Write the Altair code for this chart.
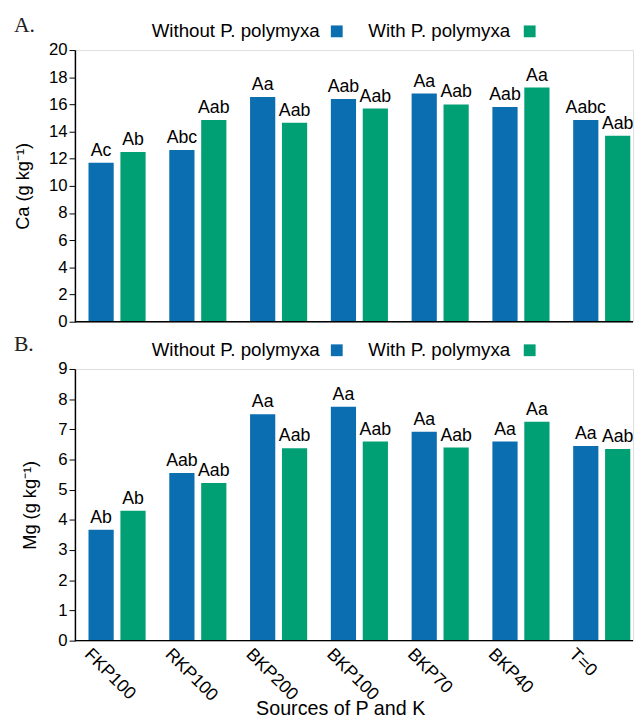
import altair as alt
import pandas as pd

sources = ["FKP100", "RKP100", "BKP200", "BKP100", "BKP70", "BKP40", "T=0"]
series = ["Without P. polymyxa", "With P. polymyxa"]
colors = ["#0a6eb0", "#00a074"]

ca_without = [11.7, 12.65, 16.55, 16.4, 16.8, 15.8, 14.85]
ca_with = [12.5, 14.85, 14.65, 15.7, 16.0, 17.25, 13.7]
ca_without_lbl = ["Ac", "Abc", "Aa", "Aab", "Aa", "Aab", "Aabc"]
ca_with_lbl = ["Ab", "Aab", "Aab", "Aab", "Aab", "Aa", "Aab"]

mg_without = [3.67, 5.55, 7.5, 7.75, 6.92, 6.6, 6.45]
mg_with = [4.3, 5.22, 6.37, 6.6, 6.4, 7.25, 6.35]
mg_without_lbl = ["Ab", "Aab", "Aa", "Aa", "Aa", "Aa", "Aa"]
mg_with_lbl = ["Ab", "Aab", "Aab", "Aab", "Aab", "Aa", "Aab"]

x_title = "Sources of P and K"

FONT = "Liberation Sans"
W, H = 567, 276
XRANGE = 578


def panel(v_wo, v_w, l_wo, l_w, ymax, step, ytitle, letter, show_x, title_x):
    df = pd.DataFrame({
        "source": sources * 2,
        "series": [series[0]] * len(sources) + [series[1]] * len(sources),
        "value": v_wo + v_w,
        "label": l_wo + l_w,
    })
    xscale = alt.Scale(domain=sources, range=[0, XRANGE], paddingInner=0.293, paddingOuter=0.168)
    x = alt.X("source:N", sort=sources, axis=None, scale=xscale)
    xo = alt.XOffset("series:N", sort=series,
                     scale=alt.Scale(domain=series, paddingInner=0.21, paddingOuter=0))
    yaxis = alt.Axis(title=ytitle, grid=False, format="d",
                     values=list(range(0, ymax + 1, step)), tickCount=30, labelOverlap=False,
                     labelFontSize=17, titleFontSize=18.5, titleFontWeight="normal",
                     tickSize=6, tickColor="black", domainColor="black", domainWidth=1.5,
                     labelColor="black", titleColor="black", labelFont=FONT, titleFont=FONT,
                     titleX=title_x, titleY=H / 2, titleAlign="center", titleBaseline="middle")
    y = alt.Y("value:Q", scale=alt.Scale(domain=[0, ymax], nice=False), axis=yaxis)
    base = alt.Chart(df).encode(x=x, xOffset=xo)
    bars = base.mark_bar(clip=True).encode(
        y=y,
        color=alt.Color("series:N", scale=alt.Scale(domain=series, range=colors), legend=None),
    )
    txt = base.mark_text(baseline="bottom", dy=-3, fontSize=18, font=FONT, color="black",
                         clip=True).encode(y=alt.Y("value:Q"), text="label:N")

    leg_df = pd.DataFrame({"s": series, "letter": [letter, letter], "xt": [x_title, x_title]})
    one = alt.Chart(leg_df).transform_filter(alt.datum.s == series[0])
    two = alt.Chart(leg_df).transform_filter(alt.datum.s == series[1])
    baseline = one.mark_rule(color="black", strokeWidth=1.5).encode(
        x=alt.value(0), x2=alt.value(W), y=alt.value(H))
    leg1 = one.mark_text(align="left", baseline="middle", fontSize=19, font=FONT,
                         color="black").encode(x=alt.value(78), y=alt.value(-19), text="s:N")
    sq1 = one.mark_square(size=144, opacity=1, color=colors[0]).encode(
        x=alt.value(266), y=alt.value(-19))
    leg2 = two.mark_text(align="left", baseline="middle", fontSize=19, font=FONT,
                         color="black").encode(x=alt.value(298), y=alt.value(-19), text="s:N")
    sq2 = two.mark_square(size=144, opacity=1, color=colors[1]).encode(
        x=alt.value(462), y=alt.value(-19))
    let = one.mark_text(align="left", baseline="middle", fontSize=22, font="Liberation Serif",
                        color="#222").encode(x=alt.value(-62), y=alt.value(-25), text="letter:N")
    layers = [bars, txt, baseline, leg1, sq1, leg2, sq2, let]
    if show_x:
        lab_df = pd.DataFrame({"source": sources})
        xlabels = alt.Chart(lab_df).mark_text(
            angle=45, align="left", baseline="top", fontSize=18, font=FONT, color="black",
            dx=-17, dy=17).encode(x=alt.X("source:N", sort=sources, axis=None, scale=xscale),
                                  y=alt.value(H + 5), text="source:N")
        xt = one.mark_text(align="center", baseline="middle", fontSize=20, font=FONT,
                           color="black").encode(x=alt.value(270), y=alt.value(H + 70), text="xt:N")
        layers += [xlabels, xt]
    return alt.layer(*layers).properties(width=W, height=H)


pa = panel(ca_without, ca_with, ca_without_lbl, ca_with_lbl, 20, 2, "Ca (g kg⁻¹)", "A.", False, -53)
pb = panel(mg_without, mg_with, mg_without_lbl, mg_with_lbl, 9, 1, "Mg (g kg⁻¹)", "B.", True, -46)

chart = alt.vconcat(pa, pb, spacing=48, bounds="flush").properties(
    padding={"top": 0, "left": 5, "right": 0, "bottom": 0}
).configure_view(stroke=None).configure(background="white")

chart.save("out.html", embed_options={"renderer": "svg", "actions": False})
